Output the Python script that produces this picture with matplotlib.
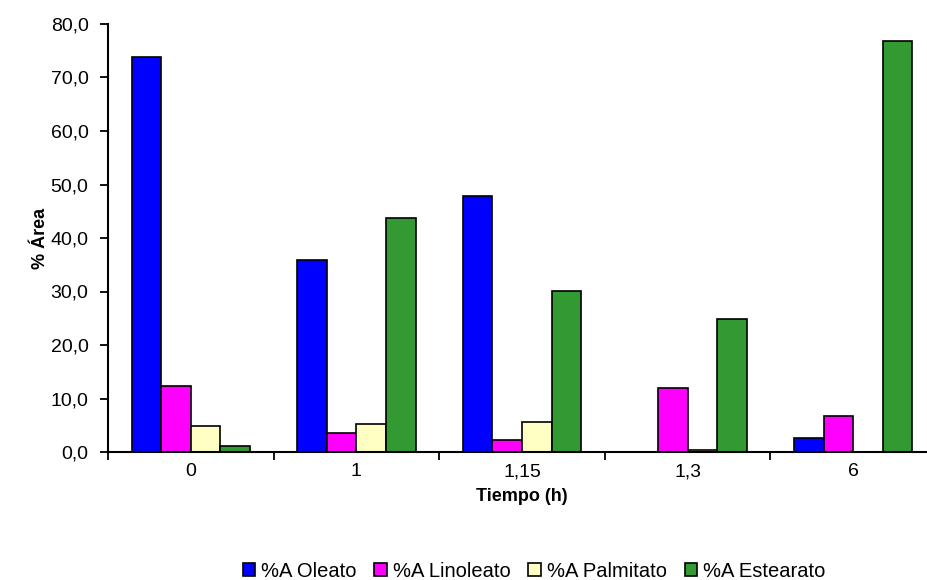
import numpy as np
import matplotlib.pyplot as plt
from matplotlib.ticker import FuncFormatter

plt.rcParams["font.family"] = ["Liberation Sans", "DejaVu Sans"]

tiempos = ["0", "1", "1,15", "1,3", "6"]
oleato = [73.8, 35.9, 47.9, 0.0, 2.7]
linoleato = [12.3, 3.6, 2.3, 12.0, 6.7]
palmitato = [4.9, 5.3, 5.7, 0.3, 0.0]
estearato = [1.2, 43.8, 30.1, 24.8, 76.9]

series = [
    ("%A Oleato", oleato, "#0000FF"),
    ("%A Linoleato", linoleato, "#FF00FF"),
    ("%A Palmitato", palmitato, "#FFFFC4"),
    ("%A Estearato", estearato, "#339933"),
]

fig = plt.figure(figsize=(9.27, 5.8), dpi=100)
ax = fig.add_axes([108 / 927, 128 / 580, 828 / 927, 428 / 580])

x = np.arange(len(tiempos))
width = 0.179
for i, (name, vals, color) in enumerate(series):
    offset = (i - 1.5) * width
    ax.bar(x + offset, vals, width, color=color, edgecolor="black",
           linewidth=1.2, label=name, zorder=2)

ax.set_xlim(-0.5, len(tiempos) - 0.5)
ax.set_ylim(0, 80)
ax.set_yticks(np.arange(0, 81, 10))
ax.yaxis.set_major_formatter(FuncFormatter(lambda v, p: f"{v:.1f}".replace(".", ",")))

# category labels in the middle, tick marks on the boundaries
ax.set_xticks(x)
ax.set_xticklabels(tiempos)
ax.set_xticks(np.arange(-0.5, len(tiempos)), minor=True)
ax.tick_params(axis="x", which="major", length=0, pad=8, labelsize=14)
ax.tick_params(axis="x", which="minor", length=6, width=1.3, direction="out")
ax.tick_params(axis="y", length=6, width=1.3, direction="out", labelsize=14, pad=8)

for side in ("top", "right"):
    ax.spines[side].set_visible(False)
for side in ("left", "bottom"):
    ax.spines[side].set_linewidth(1.5)

ax.set_xlabel("Tiempo (h)", fontsize=13, fontweight="bold", labelpad=6)
ax.set_ylabel("% Área", fontsize=13, fontweight="bold", labelpad=1)

fig.legend(loc="lower center", bbox_to_anchor=(0.576, -0.022), ncol=4,
           frameon=False, fontsize=14.5, handlelength=0.6, handleheight=0.6,
           handletextpad=0.3, columnspacing=0.9, borderaxespad=0.2)

fig.savefig("out.png", dpi=100)
